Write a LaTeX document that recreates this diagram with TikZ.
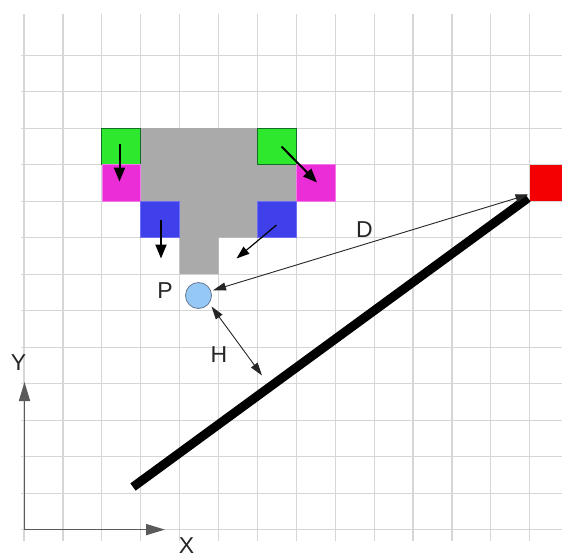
\documentclass[tikz,border=0pt]{standalone}
\usepackage{fontspec}
\setmainfont{Liberation Sans}
\usetikzlibrary{arrows.meta}
\definecolor{gridc}{RGB}{214,214,214}
\definecolor{grayc}{RGB}{170,170,170}
\definecolor{greenc}{RGB}{45,232,45}
\definecolor{greenb}{RGB}{20,110,40}
\definecolor{magc}{RGB}{235,45,215}
\definecolor{magb}{RGB}{245,120,235}
\definecolor{bluec}{RGB}{64,64,235}
\definecolor{blueb}{RGB}{110,110,245}
\definecolor{redc}{RGB}{245,0,0}
\definecolor{circc}{RGB}{150,200,245}
\definecolor{circb}{RGB}{100,120,145}
\definecolor{axisc}{RGB}{90,90,90}
\tikzset{
  gridline/.style={draw=gridc, line width=1.2pt},
  cell/.style={minimum width=38.9pt, minimum height=36.5pt, inner sep=0pt, outer sep=0pt},
  sqarrow/.style={-{Triangle[length=14pt,width=11pt]}, line width=2pt, draw=black},
  sqarrowthin/.style={-{Triangle[length=13pt,width=9pt]}, line width=1.2pt, draw=black},
  dblarrow/.style={{Triangle[length=13pt,width=8pt]}-{Triangle[length=13pt,width=8pt]}, line width=0.9pt, draw=black!85},
  axisarrow/.style={-{Triangle[length=19pt,width=11pt]}, line width=1.6pt, draw=axisc},
  lbl/.style={anchor=base, inner sep=0pt, font=\fontsize{23}{23}\selectfont, text=black!85},
}
\begin{document}
\begin{tikzpicture}[x=1pt,y=-1pt]
\useasboundingbox (0,0) rectangle (562,558);
\fill[white] (0,0) rectangle (562,558);
\clip (0,0) rectangle (562,558);
% grid
\foreach \i in {0,...,13} {
  \pgfmathsetmacro\xx{24+38.9*\i}
  \draw[gridline] (\xx,14) -- (\xx,541);
}
\foreach \j in {1,...,14} {
  \pgfmathsetmacro\yy{18.6+36.5*\j}
  \draw[gridline] (21,\yy) -- (562,\yy);
}
% gray T-shaped body
\fill[grayc] (140.7,128.1) -- (257.4,128.1) -- (257.4,164.6) -- (296.3,164.6)
  -- (296.3,201.1) -- (257.4,201.1) -- (257.4,237.6) -- (218.5,237.6)
  -- (218.5,274.1) -- (179.6,274.1) -- (179.6,201.1) -- (140.7,201.1) -- cycle;
% coloured cells
\node[cell, fill=greenc, draw=greenb, line width=0.8pt] (gl) at (121.25,146.35) {};
\node[cell, fill=magc, draw=magb, line width=0.6pt] (ml) at (121.25,182.85) {};
\node[cell, fill=greenc, draw=greenb, line width=0.8pt] (gr) at (276.85,146.35) {};
\node[cell, fill=magc, draw=magb, line width=0.6pt] (mr) at (315.75,182.85) {};
\node[cell, fill=bluec, draw=blueb, line width=0.6pt] (bl) at (160.15,219.35) {};
\node[cell, fill=bluec, draw=blueb, line width=0.6pt] (br) at (276.85,219.35) {};
\node[cell, fill=redc] (red) at (549.15,182.85) {};
% thick line
\coordinate (la) at (133,487);
\coordinate (lb) at (528,198);
\draw[line width=9pt] (la) -- (lb);
% small arrows
\coordinate (g1s) at (119.5,144);
\coordinate (g1e) at (119.5,181.5);
\coordinate (g2s) at (281.5,146.5);
\coordinate (g2e) at (317,182.5);
\coordinate (b1s) at (161,220);
\coordinate (b1e) at (161,258.5);
\coordinate (b2s) at (276.5,225);
\coordinate (b2e) at (236.5,258.5);
\draw[sqarrow] (g1s) -- (g1e);
\draw[sqarrow] (g2s) -- (g2e);
\draw[sqarrow] (b1s) -- (b1e);
\draw[sqarrowthin] (b2s) -- (b2e);
% point P
\node[circle, minimum size=26pt, inner sep=0pt, fill=circc, draw=circb, line width=0.8pt] (P) at (198.5,295.5) {};
% D and H
\coordinate (dP) at (213,290.3);
\coordinate (dR) at (528.5,194.5);
\draw[dblarrow] (dP) -- (dR);
\coordinate (hP) at (211.5,306.5);
\coordinate (hL) at (262,375.5);
\draw[dblarrow] (hP) -- (hL);
% axes
\coordinate (O) at (24.5,529.6);
\coordinate (ytip) at (24.5,382);
\coordinate (xtip) at (165,529.6);
\draw[axisarrow] (O) -- (ytip);
\draw[axisarrow] (O) -- (xtip);
% labels
\node[lbl] (lP) at (165,298.5) {P};
\node[lbl] (lH) at (219,362.5) {H};
\node[lbl] (lD) at (364.5,237) {D};
\node[lbl] (lY) at (18.5,370.5) {Y};
\node[lbl] (lX) at (186.5,553) {X};
\end{tikzpicture}
\end{document}
